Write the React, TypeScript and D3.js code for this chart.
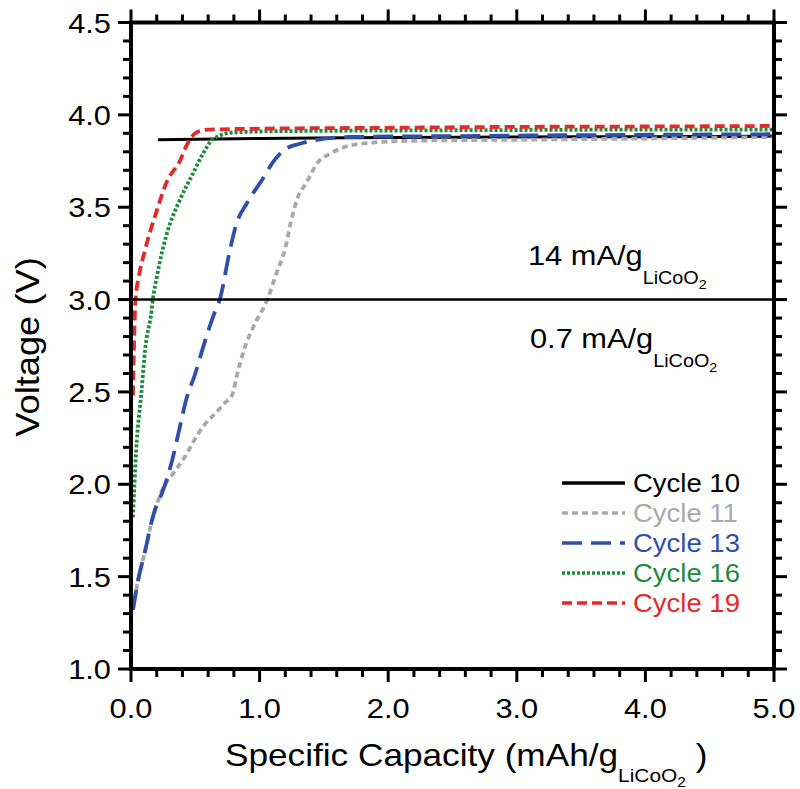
import React from "react";
import * as d3 from "d3";

// ---- data ----
const cycle10Cap = [0.21, 1.0, 2.0, 3.0, 4.0, 5.0];
const cycle10V = [3.865, 3.872, 3.877, 3.88, 3.882, 3.885];

const cycle11Cap = [0.015, 0.055, 0.11, 0.165, 0.2, 0.25, 0.33, 0.42, 0.51, 0.58, 0.65, 0.73, 0.79, 0.82, 0.88, 0.95, 1.06, 1.13, 1.2, 1.24, 1.29, 1.37, 1.45, 1.55, 1.68, 1.88, 2.2, 3.0, 4.0, 5.0];
const cycle11V = [1.32, 1.48, 1.64, 1.81, 1.89, 1.98, 2.06, 2.15, 2.26, 2.33, 2.38, 2.44, 2.49, 2.58, 2.73, 2.85, 3.0, 3.14, 3.28, 3.41, 3.54, 3.64, 3.74, 3.79, 3.83, 3.85, 3.86, 3.865, 3.872, 3.88];

const cycle13Cap = [0.015, 0.055, 0.11, 0.165, 0.2, 0.24, 0.32, 0.38, 0.43, 0.5, 0.56, 0.65, 0.69, 0.77, 0.82, 0.9, 1.03, 1.1, 1.19, 1.32, 1.45, 1.7, 2.5, 3.5, 5.0];
const cycle13V = [1.32, 1.48, 1.64, 1.81, 1.89, 1.95, 2.13, 2.31, 2.46, 2.6, 2.74, 2.93, 3.0, 3.27, 3.41, 3.52, 3.66, 3.74, 3.81, 3.845, 3.865, 3.88, 3.885, 3.89, 3.895];

const cycle16Cap = [0.015, 0.04, 0.08, 0.11, 0.16, 0.17, 0.2, 0.28, 0.38, 0.48, 0.56, 0.64, 0.8, 1.2, 2.0, 3.0, 4.0, 5.0];
const cycle16V = [1.82, 2.18, 2.49, 2.73, 2.94, 3.0, 3.12, 3.36, 3.54, 3.68, 3.79, 3.87, 3.905, 3.912, 3.915, 3.918, 3.92, 3.92];

const cycle19Cap = [0.015, 0.025, 0.035, 0.06, 0.11, 0.2, 0.28, 0.38, 0.44, 0.51, 0.6, 1.0, 2.0, 3.0, 4.0, 5.0];
const cycle19V = [2.48, 2.8, 3.0, 3.12, 3.27, 3.48, 3.64, 3.75, 3.845, 3.905, 3.92, 3.925, 3.93, 3.935, 3.937, 3.94];

const seriesNames = ["Cycle 10", "Cycle 11", "Cycle 13", "Cycle 16", "Cycle 19"];
const seriesColors = ["#000000", "#a9a9a9", "#2f4fa8", "#1f8a3d", "#e12b2b"];
const seriesDash = ["none", "6,4", "20,9", "3,2", "10,5"];

const xMajorTicks = [0, 1, 2, 3, 4, 5];
const xTickLabels = ["0.0", "1.0", "2.0", "3.0", "4.0", "5.0"];
const xMinorTicks = d3.range(0, 5.001, 0.2);
const yMajorTicks = [1.0, 1.5, 2.0, 2.5, 3.0, 3.5, 4.0, 4.5];
const yTickLabels = ["1.0", "1.5", "2.0", "2.5", "3.0", "3.5", "4.0", "4.5"];
const yMinorTicks = d3.range(1.0, 4.5001, 0.1);
const dividerVoltage = 3.0;

const FONT = "'Liberation Sans', Arial, sans-serif";
const SX = 1.1;

function T({ x, y, size, anchor = "start", fill = "#000", rotate = 0, children }: any) {
  return (
    <g transform={`translate(${x},${y}) rotate(${rotate}) scale(${SX},1)`}>
      <text x={0} y={0} fontSize={size} fontFamily={FONT} textAnchor={anchor} fill={fill}>
        {children}
      </text>
    </g>
  );
}

export default function App() {
  const W = 800, H = 789;
  const x = d3.scaleLinear().domain([0, 5]).range([131, 774]);
  const y = d3.scaleLinear().domain([1, 4.5]).range([669, 22.5]);
  const [x0, x1] = x.range();
  const [y0, y1] = y.range();

  const caps = [cycle10Cap, cycle11Cap, cycle13Cap, cycle16Cap, cycle19Cap];
  const volts = [cycle10V, cycle11V, cycle13V, cycle16V, cycle19V];
  const line = d3.line<[number, number]>().x((d) => x(d[0])).y((d) => y(d[1])).curve(d3.curveMonotoneX);

  const isMajorX = (v: number) => Math.abs(v - Math.round(v)) < 1e-6;
  const isMajorY = (v: number) => Math.abs(v * 2 - Math.round(v * 2)) < 1e-6;

  const legendY = [483, 513, 543, 573, 603];

  return (
    <>
      <style>{`body{margin:0;background:#fff}`}</style>
      <svg width={W} height={H} style={{ display: "block" }}>
        <rect width={W} height={H} fill="#fff" />
        {/* curves */}
        {caps.map((c, i) => (
          <path
            key={i}
            d={line(c.map((cv, j) => [cv, volts[i][j]] as [number, number])) || ""}
            fill="none"
            stroke={seriesColors[i]}
            strokeWidth={i === 0 ? 3 : 3.8}
            strokeDasharray={seriesDash[i]}
          />
        ))}
        {/* divider line */}
        <line x1={x0} x2={x1} y1={y(dividerVoltage)} y2={y(dividerVoltage)} stroke="#000" strokeWidth={2.5} />

        {/* ticks */}
        {xMinorTicks.map((v, i) => {
          const L = isMajorX(v) ? 13 : 8;
          return (
            <g key={"xt" + i} stroke="#000" strokeWidth={3}>
              <line x1={x(v)} x2={x(v)} y1={y0} y2={y0 + L} />
              <line x1={x(v)} x2={x(v)} y1={y1} y2={y1 - L} />
            </g>
          );
        })}
        {yMinorTicks.map((v, i) => {
          const L = isMajorY(v) ? 13 : 8;
          return (
            <g key={"yt" + i} stroke="#000" strokeWidth={3}>
              <line x1={x0} x2={x0 - L} y1={y(v)} y2={y(v)} />
              <line x1={x1} x2={x1 + L} y1={y(v)} y2={y(v)} />
            </g>
          );
        })}
        {/* frame */}
        <rect x={x0} y={y1} width={x1 - x0} height={y0 - y1} fill="none" stroke="#000" strokeWidth={4} />

        {/* tick labels */}
        {xMajorTicks.map((v, i) => (
          <T key={"xl" + i} x={x(v)} y={718} size={28} anchor="middle">{xTickLabels[i]}</T>
        ))}
        {yMajorTicks.map((v, i) => (
          <T key={"yl" + i} x={111} y={y(v) + 10} size={28} anchor="end">{yTickLabels[i]}</T>
        ))}

        {/* axis titles */}
        <T x={39} y={347} size={33} anchor="middle" rotate={-90}>Voltage (V)</T>
        <g transform={`translate(225,766) scale(${SX},1)`}>
          <text x={0} y={0} fontSize={32} fontFamily={FONT} fill="#000">
            Specific Capacity (mAh/g
            <tspan fontSize={19} dy={16}>LiCoO</tspan>
            <tspan fontSize={14} dy={5}>2</tspan>
            <tspan fontSize={32} dy={-21}>{"\u00a0)"}</tspan>
          </text>
        </g>

        {/* annotations */}
        <g transform={`translate(528,265) scale(${SX},1)`}>
          <text fontSize={28} fontFamily={FONT} fill="#000">
            14 mA/g
            <tspan fontSize={18} dy={19}>LiCoO</tspan>
            <tspan fontSize={13} dy={5}>2</tspan>
          </text>
        </g>
        <g transform={`translate(530,348) scale(${SX},1)`}>
          <text fontSize={28} fontFamily={FONT} fill="#000">
            0.7 mA/g
            <tspan fontSize={18} dy={19}>LiCoO</tspan>
            <tspan fontSize={13} dy={5}>2</tspan>
          </text>
        </g>

        {/* legend */}
        {seriesNames.map((name, i) => (
          <g key={"lg" + i}>
            <line
              x1={562}
              x2={625}
              y1={legendY[i]}
              y2={legendY[i]}
              stroke={seriesColors[i]}
              strokeWidth={3.5}
              strokeDasharray={seriesDash[i]}
            />
            <T x={633} y={legendY[i] + 9} size={25} fill={seriesColors[i]}>{name}</T>
          </g>
        ))}
      </svg>
    </>
  );
}
